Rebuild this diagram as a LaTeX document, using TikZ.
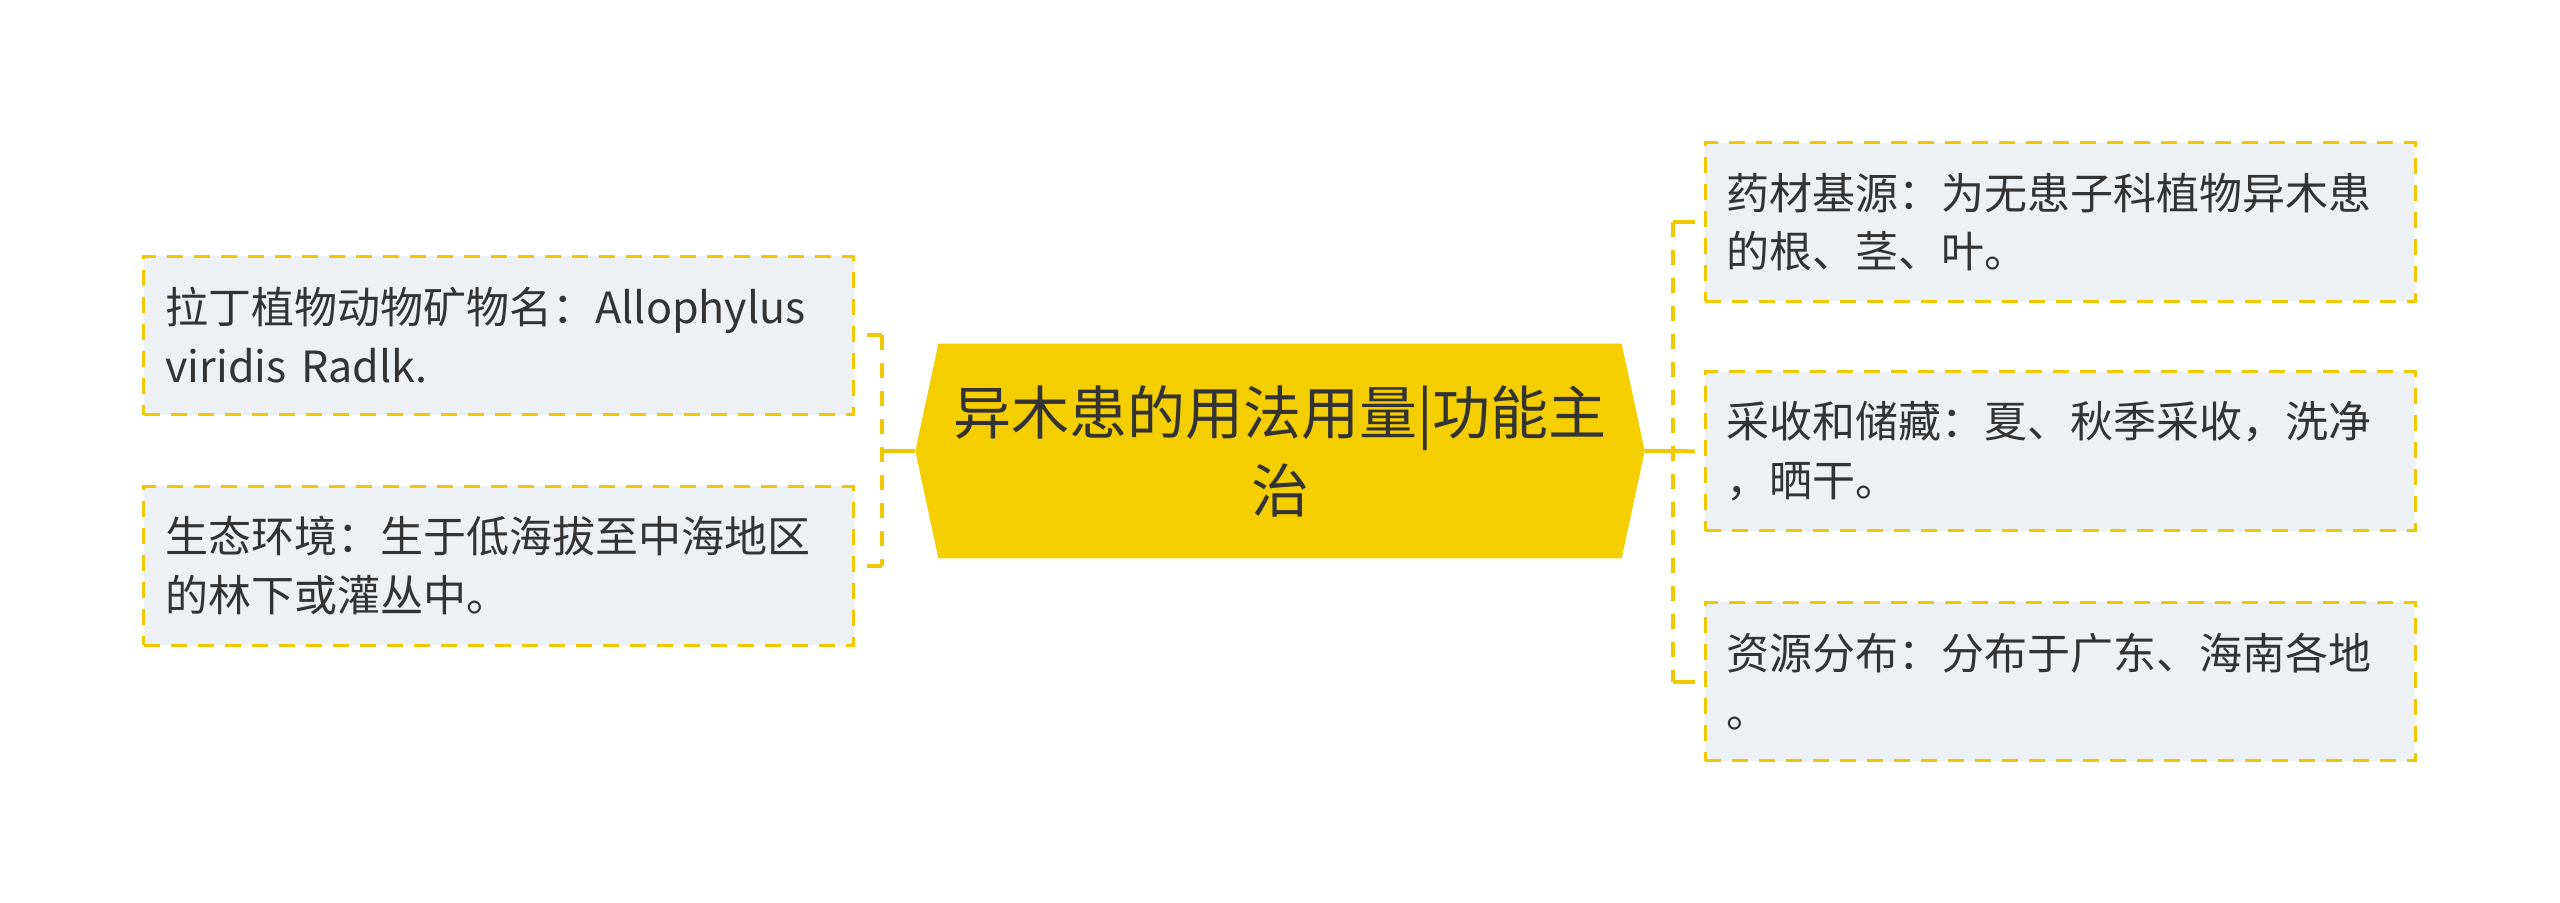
\documentclass[tikz,border=0pt]{standalone}
\usepackage{fontspec}
\setmainfont{Noto Sans CJK SC}
\usetikzlibrary{backgrounds}
\definecolor{rootfill}{RGB}{245,206,0}
\definecolor{leafline}{RGB}{240,200,0}
\definecolor{leaffill}{RGB}{238,241,244}
\definecolor{inkgray}{RGB}{51,51,51}
\tikzset{
  leaf/.style={draw=leafline, line width=0.9pt, dash pattern=on 4.8pt off 3.3pt,
    fill=leaffill, minimum width=213pt, minimum height=47.6pt, text width=200pt,
    inner xsep=6.5pt, inner ysep=0pt, align=left, text=inkgray,
    font=\fontsize{12.9}{17.6}\selectfont},
  root/.style={minimum width=218.4pt, minimum height=64pt, text width=205pt,
    inner sep=0pt, align=center, text=inkgray, font=\fontsize{17.4}{23.4}\selectfont},
  link/.style={draw=leafline, line width=1.2pt},
  bracket/.style={link, dash pattern=on 4.5pt off 3.9pt}
}
\begin{document}
\begin{tikzpicture}[x=0.3pt,y=-0.3pt]
\useasboundingbox (0,0) rectangle (2560,903);

% Root
\node[root] (root) at (1280,451) {异木患的用法用量|功能主\\治};
\begin{scope}[on background layer]
\fill[rootfill] ([xshift=6.9pt]root.north west) -- ([xshift=-6.9pt]root.north east) -- (root.east)
  -- ([xshift=-6.9pt]root.south east) -- ([xshift=6.9pt]root.south west) -- (root.west) -- cycle;
\end{scope}

% Left leaves
\node[leaf] (l1) at (498.8,335.4) {拉丁植物动物矿物名：Allophylus\\viridis Radlk.};
\node[leaf] (l2) at (498.8,565.7) {生态环境：生于低海拔至中海地区\\的林下或灌丛中。};

% Right leaves
\node[leaf] (r1) at (2060.3,222) {药材基源：为无患子科植物异木患\\的根、茎、叶。};
\node[leaf] (r2) at (2060.3,451.3) {采收和储藏：夏、秋季采收，洗净\\，晒干。};
\node[leaf] (r3) at (2060.3,681.6) {资源分布：分布于广东、海南各地\\。};

% Connectors
\coordinate (lj) at (882,451);
\coordinate (rj) at (1673,451);
\draw[link] (root.west) -- (lj);
\draw[bracket] (lj |- l1.east) -- (lj |- l2.east);
\draw[link] (lj |- l1.east) -- ([xshift=3.5pt]l1.east);
\draw[link] (lj |- l2.east) -- ([xshift=3.5pt]l2.east);
\draw[link] (root.east) -- ([xshift=-2.7pt]r2.west);
\draw[bracket] (rj |- r1.west) -- (rj |- r3.west);
\draw[link] (rj |- r1.west) -- ([xshift=-2.7pt]r1.west);
\draw[link] (rj |- r3.west) -- ([xshift=-2.7pt]r3.west);

\end{tikzpicture}
\end{document}
